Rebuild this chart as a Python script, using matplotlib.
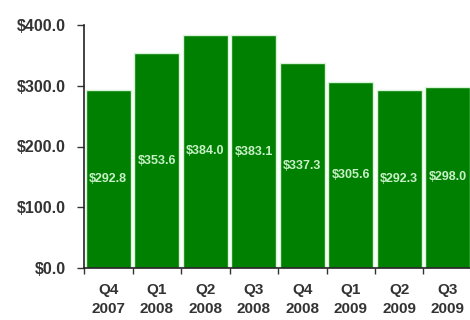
import matplotlib.pyplot as plt
import numpy as np

quarters = ["Q4", "Q1", "Q2", "Q3", "Q4", "Q1", "Q2", "Q3"]
years = ["2007", "2008", "2008", "2008", "2008", "2009", "2009", "2009"]
values = [292.8, 353.6, 384.0, 383.1, 337.3, 305.6, 292.3, 298.0]

plt.rcParams["font.family"] = ["Liberation Sans", "DejaVu Sans"]

fig = plt.figure(figsize=(4.7, 3.2), dpi=100)
ax = fig.add_axes([84 / 470, 52 / 320, 388 / 470, 243 / 320])

x = np.arange(len(values))
bars = ax.bar(x, values, width=0.92, color="#008000", edgecolor="#d8f3d8", linewidth=1.0)

for bar, v in zip(bars, values):
    ax.text(bar.get_x() + bar.get_width() / 2, v / 2, f"${v:.1f}",
            ha="center", va="center", color="#c8f0c8", fontsize=9, fontweight="bold")

ax.set_xlim(-0.5, 7.5)
ax.set_ylim(0, 400)
ax.set_yticks([0, 100, 200, 300, 400])
ax.set_yticklabels([f"${t:.1f}" for t in [0, 100, 200, 300, 400]],
                   fontsize=11.5, fontweight="bold", color="#333333")

# boundaries get the tick marks, centres get the labels
ax.set_xticks(np.arange(-0.5, 8, 1.0))
ax.set_xticklabels([])
ax.set_xticks(x, minor=True)
ax.set_xticklabels([f"{q}\n{y}" for q, y in zip(quarters, years)], minor=True,
                   fontsize=11, fontweight="bold", color="#333333", linespacing=1.45)
ax.tick_params(axis="x", which="minor", length=0, pad=11)
ax.tick_params(axis="x", which="major", length=4, width=1, color="#333333")
ax.tick_params(axis="y", length=5, width=1, color="#333333", pad=8)

for side in ("top", "right"):
    ax.spines[side].set_visible(False)
for side in ("left", "bottom"):
    ax.spines[side].set_color("#222222")
    ax.spines[side].set_linewidth(1.2)

fig.savefig("out.png", dpi=100)
